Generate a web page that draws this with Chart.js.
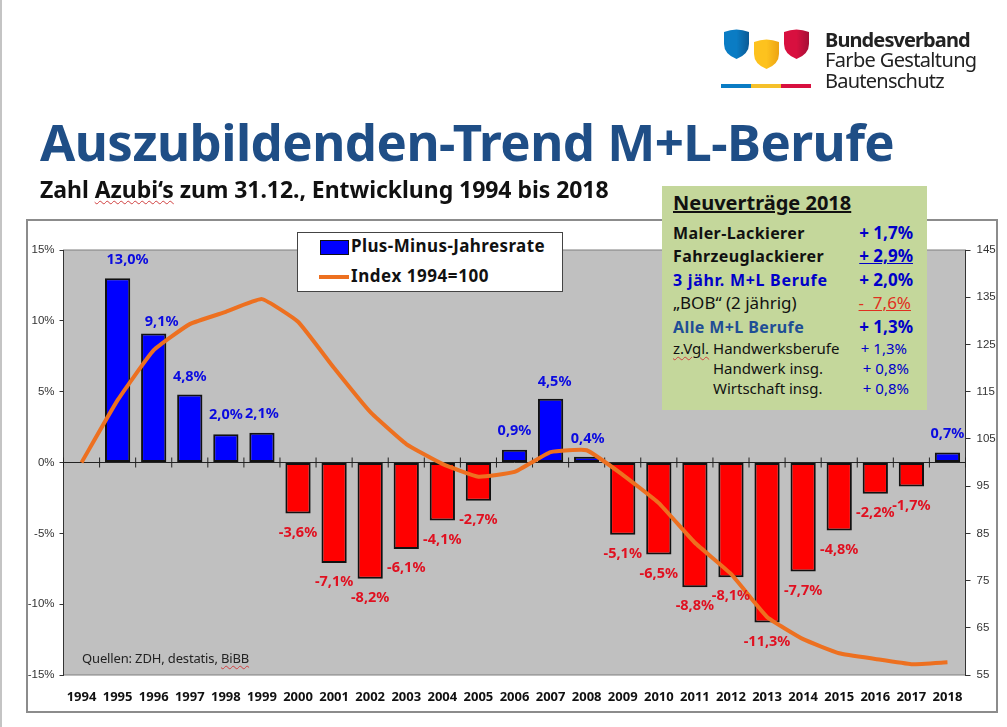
<!DOCTYPE html>
<html lang="de">
<head>
<meta charset="utf-8">
<title>Auszubildenden-Trend M+L-Berufe</title>
<script src="https://cdn.jsdelivr.net/npm/chart.js@4"></script>
<style>
  html, body { margin: 0; padding: 0; background: #fff; }
  body { position: relative; width: 1007px; height: 727px; overflow: hidden; font-family: "Noto Sans", sans-serif; color: #111; }
  .abs { position: absolute; white-space: nowrap; line-height: 1; }
  .wavy { text-decoration: underline wavy #d04040 1px; text-underline-offset: 2px; }
  #edge { left: 0; top: 0; width: 2px; height: 727px; background: #c4c4c4; }
  #frame { left: 26px; top: 219px; width: 968px; height: 490px; border: 2px solid #8c8c8c; background: #fff; }
  #chart { position: absolute; left: 0; top: 0; }
  #title { left: 40px; top: 116px; font-size: 51px; font-weight: 700; color: #1f4e86; letter-spacing: -0.55px; }
  #subtitle { left: 40px; top: 178px; font-size: 23px; font-weight: 700; letter-spacing: -0.05px; }
  #logoText div { font-size: 20px; color: #222; }
  #legendBox { left: 297px; top: 232px; width: 264px; height: 58px; border: 1px solid #444; background: #fff; }
  #sources { left: 82px; top: 652px; font-size: 13px; color: #222; letter-spacing: -0.15px; }
  #newBox { left: 662px; top: 186px; width: 265px; height: 224px; background: #c4d79b; }
  #newBox .abs { font-size: 16px; font-weight: 700; letter-spacing: 0.4px; }
  #newBox .val { color: #0000c8; font-size: 17px; letter-spacing: 0; }
  #newBox .thin { font-weight: 400; font-size: 17px; letter-spacing: 0; }
  #newBox .small { font-weight: 400; font-size: 15px; letter-spacing: 0; }
</style>
</head>
<body>
<div class="abs" id="edge"></div>
<div class="abs" id="frame"></div>
<canvas id="chart" width="1007" height="727"></canvas>

<div class="abs" id="title">Auszubildenden-Trend M+L-Berufe</div>
<div class="abs" id="subtitle">Zahl <span class="wavy">Azubi‘s</span> zum 31.12., Entwicklung 1994 bis 2018</div>

<svg class="abs" style="left:715px;top:24px" width="100" height="68" viewBox="0 0 100 68">
  <defs>
    <linearGradient id="gBlue"><stop offset="0.5" stop-color="#0a7cc4"/><stop offset="1" stop-color="#0b5a94"/></linearGradient>
    <linearGradient id="gYellow"><stop offset="0.5" stop-color="#fdc21e"/><stop offset="1" stop-color="#eda413"/></linearGradient>
    <linearGradient id="gRed"><stop offset="0.5" stop-color="#d8103f"/><stop offset="1" stop-color="#a50f36"/></linearGradient>
    <path id="shield" d="M0 3 Q12.5 -2 25 3 L25 15 Q25 25 12.5 30 Q0 25 0 15 Z"/>
  </defs>
  <use href="#shield" x="9" y="5" fill="url(#gBlue)"/>
  <use href="#shield" x="39" y="15" fill="url(#gYellow)"/>
  <use href="#shield" x="69" y="5" fill="url(#gRed)"/>
  <rect x="6" y="60" width="30" height="4" fill="#0a7cc4"/>
  <rect x="36" y="60" width="30" height="4" fill="#f5c02a"/>
  <rect x="66" y="60" width="30" height="4" fill="#d8103f"/>
</svg>
<div id="logoText">
  <div class="abs" style="left:825px;top:30px;font-weight:700;letter-spacing:-0.9px">Bundesverband</div>
  <div class="abs" style="left:825px;top:50px;letter-spacing:-0.65px">Farbe Gestaltung</div>
  <div class="abs" style="left:825px;top:71px;letter-spacing:-0.75px">Bautenschutz</div>
</div>

<div class="abs" id="legendBox"></div>
<div class="abs" style="left:320px;top:240px;width:27px;height:13px;background:#0000ff;border:1px solid #111"></div>
<div class="abs" style="left:351px;top:237px;font-size:17px;font-weight:700;letter-spacing:0.4px">Plus-Minus-Jahresrate</div>
<div class="abs" style="left:319px;top:275px;width:30px;height:4px;background:#ed7020"></div>
<div class="abs" style="left:351px;top:267px;font-size:17px;font-weight:700;letter-spacing:0.55px">Index 1994=100</div>

<div class="abs" id="sources">Quellen: ZDH, destatis, <span class="wavy">BiBB</span></div>

<div class="abs" id="newBox">
  <div class="abs" style="left:11px;top:7px;font-size:20px;letter-spacing:0;text-decoration:underline">Neuverträge 2018</div>
  <div class="abs" style="left:11px;top:39px">Maler-Lackierer</div>
  <div class="abs val" style="right:14px;top:38px">+ 1,7%</div>
  <div class="abs" style="left:11px;top:62px">Fahrzeuglackierer</div>
  <div class="abs val" style="right:14px;top:61px;text-decoration:underline">+ 2,9%</div>
  <div class="abs" style="left:11px;top:86px;color:#0000c8;letter-spacing:0.7px">3 jähr. M+L Berufe</div>
  <div class="abs val" style="right:14px;top:85px">+ 2,0%</div>
  <div class="abs thin" style="left:11px;top:108px">„BOB“ (2 jährig)</div>
  <div class="abs thin" style="right:16px;top:108px;color:#e03020;text-decoration:underline">-&nbsp;&nbsp;7,6%</div>
  <div class="abs" style="left:11px;top:133px;color:#1f4e96">Alle M+L Berufe</div>
  <div class="abs val" style="right:14px;top:132px">+ 1,3%</div>
  <div class="abs small" style="left:11px;top:155px"><span class="wavy">z.Vgl.</span> Handwerksberufe</div>
  <div class="abs small val" style="right:20px;top:155px">+ 1,3%</div>
  <div class="abs small" style="left:51px;top:175px">Handwerk insg.</div>
  <div class="abs small val" style="right:18px;top:175px">+ 0,8%</div>
  <div class="abs small" style="left:51px;top:195px">Wirtschaft insg.</div>
  <div class="abs small val" style="right:18px;top:195px">+ 0,8%</div>
</div>

<script>
  const years = ['1994', '1995', '1996', '1997', '1998', '1999', '2000', '2001', '2002',
    '2003', '2004', '2005', '2006', '2007', '2008', '2009', '2010', '2011', '2012',
    '2013', '2014', '2015', '2016', '2017', '2018'];

  // Plus-Minus-Jahresrate in %
  const yearlyRate = [null, 13.0, 9.1, 4.8, 2.0, 2.1, -3.6, -7.1, -8.2, -6.1, -4.1, -2.7, 0.9,
    4.5, 0.4, -5.1, -6.5, -8.8, -8.1, -11.3, -7.7, -4.8, -2.2, -1.7, 0.7];

  // Index 1994=100
  const indexValues = [100, 113.2, 123.8, 129.3, 131.9, 134.6, 129.8, 120, 110.7, 103.9, 99.7,
    97, 98, 102.2, 102.6, 97.4, 91.4, 83, 76.4, 67.3, 62.6, 59.6, 58.4, 57.3, 57.7];

  // labels that sit off-centre in the original: year -> [dx, dy]
  const labelShift = {
    1995: [10, 1], 1996: [8, 7], 1997: [0, 1], 2007: [4, 2], 2008: [1, 1]
  };

  // grey plot background, frame and the zero line with its ticks
  const plotDecor = {
    id: 'plotDecor',
    beforeDraw(chart) {
      const { ctx, chartArea: a } = chart;
      ctx.save();
      ctx.fillStyle = '#c0c0c0';
      ctx.fillRect(a.left, a.top, a.width, a.height);
      ctx.strokeStyle = '#7f7f7f';
      ctx.lineWidth = 1;
      ctx.strokeRect(a.left, a.top, a.width, a.height);
      ctx.restore();
    },
    beforeDatasetsDraw(chart) {
      const { ctx, chartArea: a, scales } = chart;
      const y0 = scales.y.getPixelForValue(0);
      const step = scales.x.getPixelForValue(1) - scales.x.getPixelForValue(0);
      ctx.save();
      ctx.strokeStyle = '#222';
      ctx.lineWidth = 1;
      ctx.beginPath();
      ctx.moveTo(a.left, y0);
      ctx.lineTo(a.right, y0);
      for (let i = 0; i <= years.length; i++) {
        const x = a.left + step * i;
        ctx.moveTo(x, y0 - 5);
        ctx.lineTo(x, y0 + 5);
      }
      ctx.stroke();
      ctx.restore();
    }
  };

  const rateLabels = {
    id: 'rateLabels',
    afterDatasetsDraw(chart) {
      const { ctx } = chart;
      const bars = chart.getDatasetMeta(0).data;
      ctx.save();
      ctx.font = '700 14.5px "Noto Sans"';
      ctx.textAlign = 'center';
      ctx.textBaseline = 'middle';
      yearlyRate.forEach((v, i) => {
        if (v === null) return;
        const shift = labelShift[years[i]] || [0, 0];
        const text = v.toFixed(1).replace('.', ',') + '%';
        ctx.fillStyle = v > 0 ? '#0a0ae0' : '#e01020';
        ctx.fillText(text, bars[i].x + shift[0], bars[i].y + (v > 0 ? -19 : 19) + shift[1]);
      });
      ctx.restore();
    }
  };

  new Chart(document.getElementById('chart'), {
    type: 'bar',
    data: {
      labels: years,
      datasets: [{
        type: 'bar',
        data: yearlyRate,
        yAxisID: 'y',
        order: 1,
        backgroundColor: yearlyRate.map(v => (v > 0 ? '#0000ff' : '#ff0000')),
        borderColor: '#111',
        borderWidth: 2,
        borderSkipped: false,
        categoryPercentage: 1,
        barPercentage: 0.7
      }, {
        type: 'line',
        data: indexValues,
        yAxisID: 'y1',
        order: 0,
        borderColor: '#ed7020',
        borderWidth: 4,
        pointRadius: 0,
        tension: 0.12,
        clip: false
      }]
    },
    options: {
      responsive: false,
      animation: false,
      layout: { padding: { top: 250 } },
      plugins: { legend: { display: false }, tooltip: { enabled: false } },
      scales: {
        x: {
          grid: { display: false },
          border: { display: false },
          ticks: { color: '#111', padding: 6, maxRotation: 0, autoSkip: false, font: { family: '"Noto Sans"', size: 13, weight: '700' } },
          afterFit(scale) { scale.height = 52; }
        },
        y: {
          min: -15,
          max: 15,
          grid: { drawOnChartArea: false, color: '#333', tickLength: 4 },
          border: { color: '#333' },
          ticks: { stepSize: 5, color: '#333', padding: 5, font: { family: '"Liberation Sans"', size: 11.5 }, callback: v => v + '%' },
          afterFit(scale) { scale.width = 63.5; }
        },
        y1: {
          position: 'right',
          min: 55,
          max: 145,
          grid: { drawOnChartArea: false, color: '#333', tickLength: 5 },
          border: { color: '#333' },
          ticks: { stepSize: 10, color: '#333', padding: 6, font: { family: '"Liberation Sans"', size: 11.5 } },
          afterFit(scale) { scale.width = 41.5; }
        }
      }
    },
    plugins: [plotDecor, rateLabels]
  });
</script>
</body>
</html>
